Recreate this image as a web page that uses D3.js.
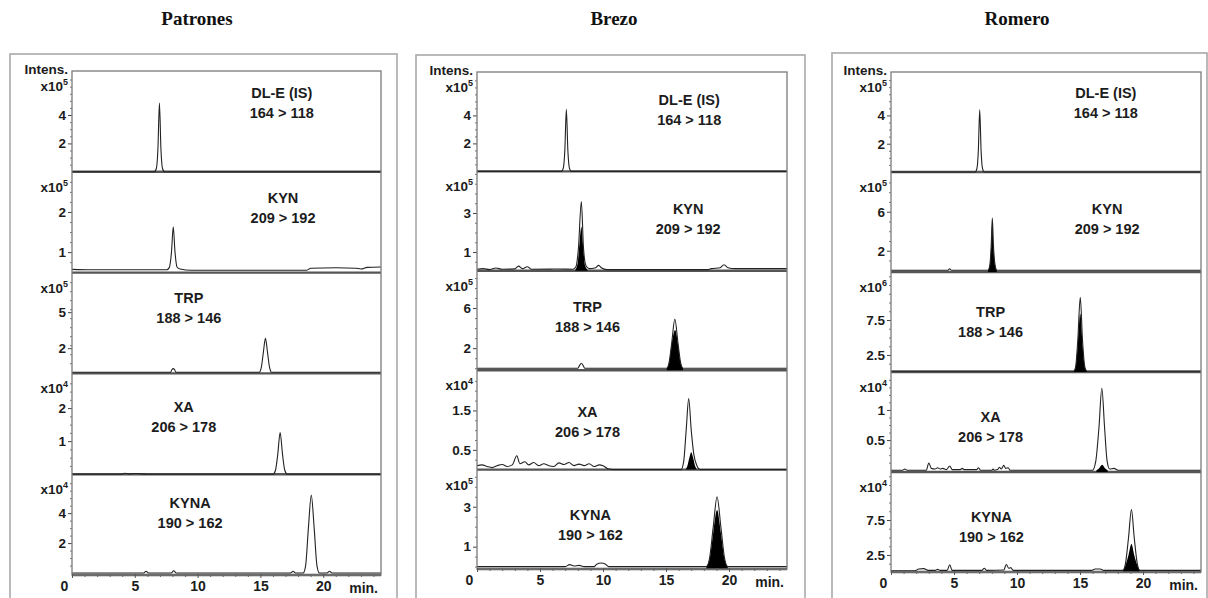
<!DOCTYPE html>
<html>
<head>
<meta charset="utf-8">
<script src="https://cdn.jsdelivr.net/npm/d3@7"></script>
<style>
  body { margin: 0; background: #fff; }
  svg { display: block; }
</style>
</head>
<body>
<svg id="chart" width="1208" height="598"></svg>
<script>
// ---- Chart content -------------------------------------------------------
const panelTitles = ["Patrones", "Brezo", "Romero"];
const compounds = ["DL-E (IS)", "KYN", "TRP", "XA", "KYNA"];
const transitions = ["164 > 118", "209 > 192", "188 > 146", "206 > 178", "190 > 162"];
const timeTicks = [0, 5, 10, 15, 20];
const timeMinorTicks = [1, 2, 3, 4, 6, 7, 8, 9, 11, 12, 13, 14, 16, 17, 18, 19, 21, 22, 23, 24];
const timeRange = [0, 24.6];

// Intensity multiplier exponent (x10^n) for each trace, per panel
const exponents = [
  [5, 5, 5, 4, 4],
  [5, 5, 5, 4, 5],
  [5, 5, 6, 4, 4]
];
// Labelled intensity ticks
const yTicks = [
  [[2, 4], [1, 2], [2, 5], [1, 2], [2, 4]],
  [[2, 4], [1, 3], [2, 6], [0.5, 1.5], [1, 3]],
  [[2, 4], [2, 6], [2.5, 7.5], [0.5, 1], [2.5, 7.5]]
];
// Visible intensity window of each trace
const yDomains = [
  [[0, 7.1], [0.49, 3.0], [-0.1, 8.3], [0, 3.05], [-0.13, 6.6]],
  [[0, 7.1], [0.04, 5.13], [-0.2, 9.72], [0, 2.52], [-0.12, 4.86]],
  [[0, 7.07], [-0.18, 10.07], [0.07, 14.36], [-0.03, 1.63], [0.07, 14.36]]
];

// ---- Chromatogram traces: [retention time (min), intensity] ---------------
// Patrones (standards): outline traces only
const patronesDLE = [[0,0],[6.55,0],[6.72,0.25],[6.84,1.6],[6.96,4.85],[7.08,1.6],[7.2,0.25],[7.37,0],[24.6,0]];
const patronesKYN = [[0,0.57],[1.5,0.56],[4,0.56],[7.55,0.56],[7.75,0.62],[7.92,1.0],[8.06,1.63],[8.2,1.0],[8.36,0.63],[8.6,0.58],[9.5,0.55],[18.7,0.55],[19.0,0.6],[21.0,0.61],[22.6,0.6],[23.0,0.58],[23.5,0.62],[24.6,0.63]];
const patronesTRP = [[0,0],[7.85,0],[7.95,0.2],[8.06,0.3],[8.17,0.2],[8.27,0],[14.9,0],[15.08,0.45],[15.24,1.7],[15.4,2.83],[15.56,1.7],[15.72,0.45],[15.9,0],[24.6,0]];
const patronesXA = [[0,0],[3.9,0],[4.2,0.03],[4.5,0.01],[5.1,0.02],[6.0,0],[16.0,0],[16.2,0.12],[16.38,0.6],[16.57,1.26],[16.76,0.6],[16.94,0.12],[17.15,0],[24.6,0]];
const patronesKYNA = [[0,0],[5.7,0],[5.9,0.12],[6.1,0],[7.9,0],[8.1,0.15],[8.3,0],[17.4,0],[17.6,0.12],[17.8,0],[18.4,0],[18.6,0.5],[18.82,3.0],[19.05,5.2],[19.28,3.0],[19.5,0.5],[19.7,0],[20.3,0],[20.5,0.12],[20.7,0],[24.6,0]];

// Brezo: outline traces and filled sample traces
const brezoDLE = [[0,0],[6.7,0],[6.85,0.25],[6.97,1.5],[7.09,4.43],[7.21,1.5],[7.33,0.25],[7.48,0],[24.6,0]];
const brezoKYN = [[0,0.12],[0.5,0.15],[1,0.1],[1.5,0.18],[2,0.12],[3,0.14],[3.3,0.28],[3.6,0.15],[4.0,0.25],[4.3,0.12],[6.5,0.13],[7.6,0.12],[7.85,0.25],[8.05,1.2],[8.28,3.58],[8.45,1.2],[8.65,0.3],[8.9,0.15],[9.4,0.2],[9.65,0.32],[9.9,0.18],[10.3,0.1],[18.3,0.1],[18.6,0.15],[19.3,0.2],[19.6,0.35],[19.9,0.2],[20.5,0.15],[24.6,0.15]];
const brezoKYNFill = [[7.8,0.1],[7.98,0.4],[8.14,1.5],[8.28,2.3],[8.42,1.3],[8.58,0.3],[8.78,0.1]];
const brezoTRP = [[0,0],[8.0,0],[8.15,0.3],[8.28,0.5],[8.41,0.3],[8.55,0],[15.05,0],[15.25,0.6],[15.45,2.5],[15.7,4.9],[15.95,2.5],[16.15,0.6],[16.35,0],[24.6,0]];
const brezoTRPFill = [[15.05,0],[15.25,0.6],[15.45,2.4],[15.72,3.8],[15.95,2.4],[16.15,0.6],[16.35,0]];
const brezoXA = [[0,0.1],[0.4,0.12],[0.8,0.08],[1.2,0.05],[1.6,0.1],[2.0,0.13],[2.4,0.08],[2.8,0.12],[3.16,0.35],[3.4,0.15],[3.8,0.2],[4.1,0.12],[4.5,0.18],[4.9,0.1],[5.3,0.15],[5.7,0.1],[6.1,0.08],[6.5,0.17],[6.9,0.13],[7.3,0.18],[7.7,0.1],[8.1,0.14],[8.5,0.1],[8.9,0.15],[9.3,0.08],[9.7,0.12],[10.0,0.1],[10.4,0.02],[10.8,0],[16.2,0],[16.4,0.2],[16.6,1.0],[16.8,1.8],[17.0,1.0],[17.2,0.4],[17.45,0.1],[17.7,0],[24.6,0]];
const brezoXAFill = [[16.5,0],[16.7,0.1],[16.85,0.3],[17.0,0.44],[17.15,0.3],[17.3,0.1],[17.5,0]];
const brezoKYNA = [[0,0],[7.0,0],[7.35,0.1],[7.7,0.03],[8.1,0.06],[8.5,0],[9.3,0],[9.5,0.12],[9.85,0.18],[10.2,0.12],[10.45,0],[18.2,0],[18.45,0.4],[18.75,2.0],[19.05,3.5],[19.35,2.0],[19.65,0.4],[19.9,0],[24.6,0]];
const brezoKYNAFill = [[18.2,0],[18.45,0.35],[18.75,1.7],[19.05,2.83],[19.35,1.7],[19.65,0.35],[19.9,0]];

// Romero: outline traces and filled sample traces
const romeroDLE = [[0,0],[6.68,0],[6.82,0.25],[6.93,1.5],[7.04,4.4],[7.15,1.5],[7.26,0.25],[7.4,0],[24.6,0]];
const romeroKYN = [[0,0],[4.5,0],[4.66,0.15],[4.8,0],[7.7,0],[7.85,0.6],[7.95,2.5],[8.04,5.35],[8.13,2.5],[8.25,0.6],[8.4,0],[24.6,0]];
const romeroKYNFill = [[7.7,0],[7.85,0.6],[7.95,2.4],[8.04,5.0],[8.13,2.4],[8.25,0.6],[8.4,0]];
const romeroTRP = [[0,0.2],[14.5,0.2],[14.65,0.8],[14.82,4.5],[15.02,10.75],[15.2,4.5],[15.38,0.8],[15.55,0.2],[24.6,0.2]];
const romeroTRPFill = [[14.5,0.2],[14.65,0.8],[14.82,4.0],[15.02,8.4],[15.2,4.0],[15.38,0.8],[15.55,0.2]];
const romeroXA = [[0,0],[0.9,0],[1.1,0.02],[1.3,0],[2.8,0],[3.0,0.12],[3.2,0.03],[3.5,0.02],[3.7,0.04],[3.9,0.02],[4.1,0.03],[4.4,0.01],[4.66,0.07],[4.85,0.01],[5.5,0.01],[5.65,0.03],[5.8,0.01],[6.8,0.01],[6.95,0.04],[7.1,0],[8.0,0],[8.1,0.02],[8.2,0],[8.45,0.01],[8.6,0.05],[8.75,0.02],[8.95,0.08],[9.1,0.03],[9.3,0.04],[9.45,0],[16.0,0],[16.25,0.15],[16.5,0.7],[16.73,1.36],[16.95,0.7],[17.15,0.15],[17.35,0.02],[17.7,0.03],[18.0,0],[24.6,0]];
const romeroXAFill = [[16.3,0],[16.5,0.03],[16.75,0.09],[17.0,0.03],[17.2,0]];
const romeroKYNA = [[0,0.25],[1.9,0.25],[2.2,0.5],[2.6,0.55],[2.95,0.3],[3.5,0.3],[3.7,0.45],[3.9,0.3],[4.45,0.3],[4.66,1.1],[4.85,0.3],[7.2,0.3],[7.4,0.6],[7.6,0.3],[8.95,0.35],[9.15,1.15],[9.35,0.6],[9.5,0.7],[9.7,0.3],[15.9,0.3],[16.2,0.5],[16.6,0.5],[16.9,0.3],[18.4,0.3],[18.6,1.2],[18.85,5.0],[19.08,9.0],[19.3,5.0],[19.55,1.2],[19.75,0.3],[24.6,0.3]];
const romeroKYNAFill = [[18.4,0.3],[18.6,1.0],[18.85,2.5],[19.08,4.07],[19.3,2.5],[19.55,1.0],[19.75,0.3]];

const outlineTraces = [
  [patronesDLE, patronesKYN, patronesTRP, patronesXA, patronesKYNA],
  [brezoDLE, brezoKYN, brezoTRP, brezoXA, brezoKYNA],
  [romeroDLE, romeroKYN, romeroTRP, romeroXA, romeroKYNA]
];
const filledTraces = [
  [null, null, null, null, null],
  [null, brezoKYNFill, brezoTRPFill, brezoXAFill, brezoKYNAFill],
  [null, romeroKYNFill, romeroTRPFill, romeroXAFill, romeroKYNAFill]
];

// ---- Layout ---------------------------------------------------------------
const panelLayout = [
  { box: [10, 54, 397],  x0: 72,  x1: 381,  top: 71, bottom: 575, titleX: 197 },
  { box: [416, 55, 805], x0: 477, x1: 787,  top: 72, bottom: 569, titleX: 614 },
  { box: [832, 53, 1207], x0: 891, x1: 1201, top: 72, bottom: 572, titleX: 1017 }
];
// compound label anchor: [time, offset below the trace frame top]
const labelAnchors = [
  [[16.7, 22], [16.8, 26], [9.3, 25], [8.9, 34], [9.4, 29]],
  [[16.84, 28], [16.76, 38], [8.77, 36], [8.77, 42], [9.0, 45]],
  [[17.05, 21], [17.15, 37], [7.9, 40], [7.9, 45], [7.97, 45]]
];

const sans = "'Liberation Sans', Arial, sans-serif";
const ink = "#1c1c1c";
const svg = d3.select("#chart");
const defs = svg.append("defs");

panelTitles.forEach((title, pi) => {
  const L = panelLayout[pi];
  const g = svg.append("g");

  // outer panel box
  g.append("rect")
    .attr("x", L.box[0]).attr("y", L.box[1])
    .attr("width", L.box[2] - L.box[0]).attr("height", 640 - L.box[1])
    .attr("fill", "none").attr("stroke", "#a9a9a9").attr("stroke-width", 1.6);

  // panel title
  svg.append("text")
    .attr("x", L.titleX).attr("y", 25)
    .attr("text-anchor", "middle")
    .attr("font-family", "'Liberation Serif', 'Times New Roman', serif")
    .attr("font-weight", "bold").attr("font-size", 19)
    .attr("fill", "#111")
    .text(title);

  const x = d3.scaleLinear().domain(timeRange).range([L.x0, L.x1]);
  const band = d3.scaleBand().domain(d3.range(compounds.length)).range([L.top, L.bottom]);

  compounds.forEach((name, i) => {
    const top = band(i);
    const bottom = top + band.bandwidth();
    const y = d3.scaleLinear().domain(yDomains[pi][i]).range([bottom, top]);
    const sg = g.append("g");

    const clipId = `clip-${pi}-${i}`;
    defs.append("clipPath").attr("id", clipId)
      .append("rect").attr("x", L.x0).attr("y", top)
      .attr("width", L.x1 - L.x0).attr("height", bottom - top + 1);

    // bottom rule of the trace window
    sg.append("line")
      .attr("x1", L.x0).attr("x2", L.x1).attr("y1", bottom).attr("y2", bottom)
      .attr("stroke", "#555").attr("stroke-width", 2.4);

    const plot = sg.append("g").attr("clip-path", `url(#${clipId})`);

    const fill = filledTraces[pi][i];
    if (fill) {
      const area = d3.area()
        .x(d => x(d[0])).y0(bottom).y1(d => y(d[1]))
        .curve(d3.curveMonotoneX);
      plot.append("path").datum(fill).attr("d", area).attr("fill", "#000");
    }
    const line = d3.line().x(d => x(d[0])).y(d => y(d[1])).curve(d3.curveMonotoneX);
    plot.append("path").datum(outlineTraces[pi][i]).attr("d", line)
      .attr("fill", "none").attr("stroke", "#222").attr("stroke-width", 1.1);

    // intensity axis
    const ticks = yTicks[pi][i];
    const step = (ticks[1] - ticks[0]) / 4;
    const dom = y.domain();
    const minor = d3.range(Math.ceil(dom[0] / step) * step, dom[1], step)
      .filter(v => !ticks.some(t => Math.abs(t - v) < 1e-6) && y(v) > top + 2 && y(v) < bottom - 2);
    const gMinor = sg.append("g").attr("transform", `translate(${L.x0},0)`)
      .call(d3.axisLeft(y).tickValues(minor).tickSize(2).tickFormat(""));
    gMinor.select(".domain").remove();
    gMinor.selectAll("line").attr("stroke", "#777");

    const gy = sg.append("g").attr("transform", `translate(${L.x0},0)`)
      .call(d3.axisLeft(y).tickValues(ticks).tickSize(4).tickPadding(2).tickFormat(d => String(d)));
    gy.select(".domain").remove();
    gy.selectAll("line").attr("stroke", "#444");
    gy.selectAll("text").attr("font-family", sans).attr("font-weight", "bold")
      .attr("font-size", 13.5).attr("fill", ink);

    // x10^n multiplier
    const mult = sg.append("text")
      .attr("x", L.x0 - 4).attr("y", top + 20)
      .attr("text-anchor", "end")
      .attr("font-family", sans).attr("font-weight", "bold").attr("font-size", 13.5)
      .attr("fill", ink);
    mult.append("tspan").text("x10");
    mult.append("tspan").attr("dy", -6).attr("font-size", 9).text(exponents[pi][i]);

    // compound name and MRM transition
    const [lt, ldy] = labelAnchors[pi][i];
    sg.append("text")
      .attr("x", x(lt)).attr("y", top + ldy + 5)
      .attr("text-anchor", "middle")
      .attr("font-family", sans).attr("font-weight", "bold").attr("font-size", 14.5)
      .attr("fill", ink).text(name);
    sg.append("text")
      .attr("x", x(lt)).attr("y", top + ldy + 25)
      .attr("text-anchor", "middle")
      .attr("font-family", sans).attr("font-weight", "bold").attr("font-size", 14.5)
      .attr("fill", ink).text(transitions[i]);
  });

  // trace frame
  g.append("rect")
    .attr("x", L.x0).attr("y", L.top)
    .attr("width", L.x1 - L.x0).attr("height", L.bottom - L.top)
    .attr("fill", "none").attr("stroke", "#7a7a7a").attr("stroke-width", 1.3);

  g.append("text")
    .attr("x", L.x0 - 4).attr("y", L.top + 3)
    .attr("text-anchor", "end")
    .attr("font-family", sans).attr("font-weight", "bold").attr("font-size", 13.5)
    .attr("fill", ink).text("Intens.");

  // retention time axis
  const gxMinor = g.append("g").attr("transform", `translate(0,${L.bottom - 1})`)
    .call(d3.axisBottom(x).tickValues(timeMinorTicks).tickSize(3).tickFormat(""));
  gxMinor.select(".domain").remove();
  gxMinor.selectAll("line").attr("stroke", "#666");

  const gx = g.append("g").attr("transform", `translate(0,${L.bottom - 1})`)
    .call(d3.axisBottom(x).tickValues(timeTicks).tickSize(4).tickPadding(3).tickFormat(d => String(d)));
  gx.select(".domain").remove();
  gx.selectAll("line").attr("stroke", "#555");
  gx.selectAll("text")
    .attr("font-family", sans).attr("font-weight", "bold").attr("font-size", 14)
    .attr("fill", ink)
    .attr("x", d => d === 0 ? -8 : 0);

  g.append("text")
    .attr("x", L.x1 - 3).attr("y", L.bottom + 18)
    .attr("text-anchor", "end")
    .attr("font-family", sans).attr("font-weight", "bold").attr("font-size", 14)
    .attr("fill", ink).text("min.");
});
</script>
</body>
</html>
